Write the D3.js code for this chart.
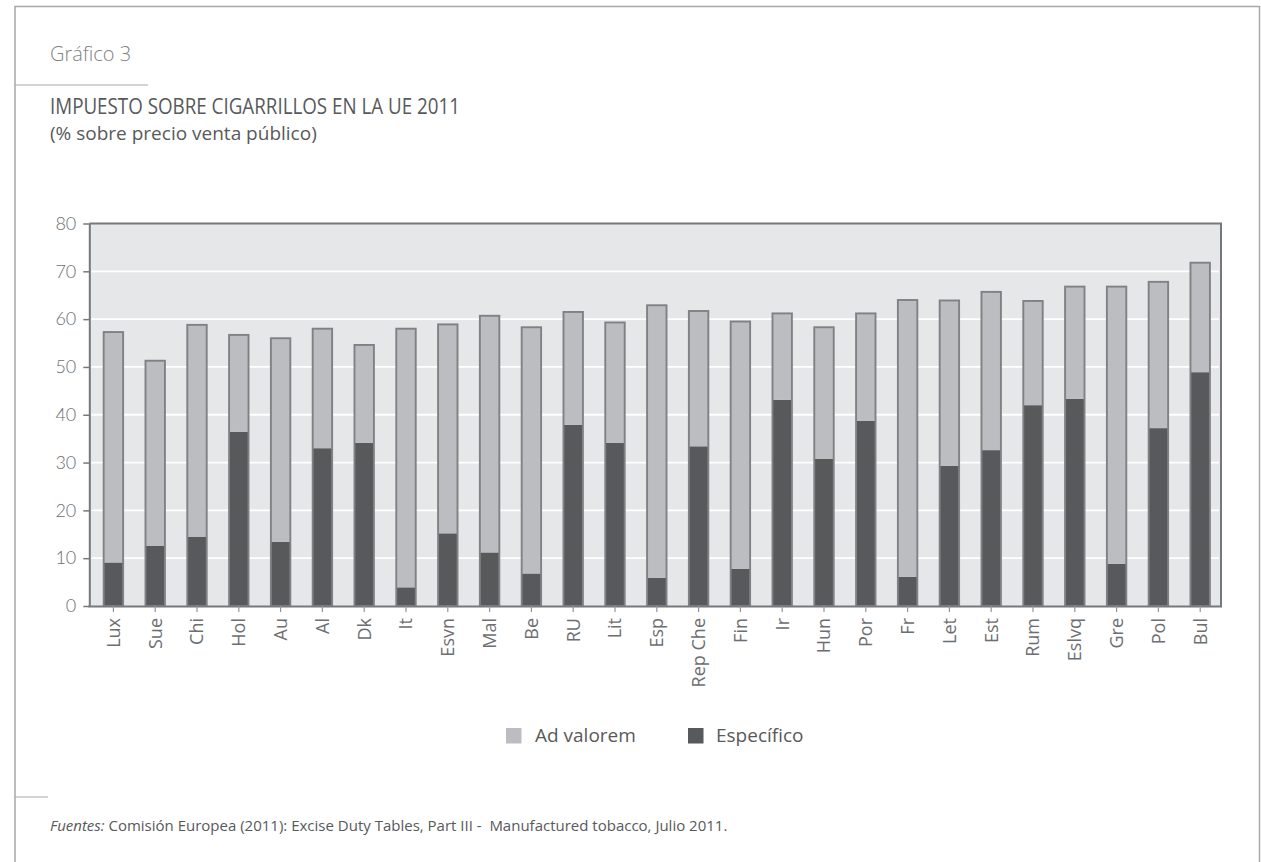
<!DOCTYPE html>
<html>
<head>
<meta charset="utf-8">
<script src="https://cdn.jsdelivr.net/npm/d3@7"></script>
<style>
  html, body { margin: 0; padding: 0; background: #ffffff; }
  svg { display: block; font-family: "Open Sans", "Noto Sans", sans-serif; }
</style>
</head>
<body>
<svg id="chart" width="1261" height="862"></svg>
<script>
// Tax on cigarettes in the EU, 2011 (% of retail price)
const paises = ["Lux", "Sue", "Chi", "Hol", "Au", "Al", "Dk", "It", "Esvn", "Mal", "Be", "RU", "Lit",
  "Esp", "Rep Che", "Fin", "Ir", "Hun", "Por", "Fr", "Let", "Est", "Rum", "Eslvq", "Gre", "Pol", "Bul"];
const especifico = [9.1, 12.6, 14.5, 36.4, 13.4, 33.0, 34.1, 3.9, 15.2, 11.2, 6.8, 37.9, 34.1,
  5.9, 33.4, 7.8, 43.1, 30.8, 38.7, 6.1, 29.3, 32.6, 42.0, 43.3, 8.8, 37.2, 48.9];
const adValorem = [48.2, 38.7, 44.3, 20.3, 42.6, 25.0, 20.5, 54.1, 43.7, 49.5, 51.5, 23.6, 25.2,
  57.0, 28.3, 51.7, 18.1, 27.5, 22.5, 57.9, 34.6, 33.1, 21.8, 23.5, 58.0, 30.6, 22.9];
const yTicks = [0, 10, 20, 30, 40, 50, 60, 70, 80];
const series = ["especifico", "adValorem"];
const seriesLabels = {adValorem: "Ad valorem", especifico: "Específico"};

const colors = {especifico: "#58595b", adValorem: "#bcbdc0"};
const outline = "#808185";
const axisColor = "#77787b";
const textColor = "#6d6e71";

const svg = d3.select("#chart");

// page frame and separators
svg.append("path")
  .attr("d", "M15,862 V6.5 H1259.5 V862")
  .attr("fill", "none").attr("stroke", "#a7a8aa").attr("stroke-width", 1.5);
svg.append("line").attr("x1", 15).attr("x2", 148).attr("y1", 85).attr("y2", 85)
  .attr("stroke", "#a7a8aa").attr("stroke-width", 1.2);
svg.append("line").attr("x1", 15).attr("x2", 48).attr("y1", 797).attr("y2", 797)
  .attr("stroke", "#a7a8aa").attr("stroke-width", 1.2);

// headings
svg.append("text").attr("x", 50).attr("y", 61)
  .attr("font-size", 20).attr("font-weight", 300).attr("fill", "#808285")
  .text("Gráfico 3");
svg.append("text").attr("x", 50).attr("y", 114)
  .attr("font-size", 21).attr("font-weight", 500).attr("fill", "#58595b")
  .attr("textLength", 410).attr("lengthAdjust", "spacingAndGlyphs")
  .text("IMPUESTO SOBRE CIGARRILLOS EN LA UE 2011");
svg.append("text").attr("x", 50).attr("y", 140)
  .attr("font-size", 19).attr("fill", "#58595b")
  .text("(% sobre precio venta público)");

// plot geometry
const plot = {left: 89.3, right: 1221, top: 223.5, bottom: 606};

const x = d3.scaleBand().domain(paises).range([92.4, 1221.2]).paddingInner(0.535).paddingOuter(0.27);
const y = d3.scaleLinear().domain([0, 80]).range([plot.bottom, plot.top]);

const table = paises.map((p, i) => ({pais: p, especifico: especifico[i], adValorem: adValorem[i]}));
const stacked = d3.stack().keys(series)(table);

// plot background
svg.append("rect")
  .attr("x", plot.left).attr("y", plot.top)
  .attr("width", plot.right - plot.left).attr("height", plot.bottom - plot.top)
  .attr("fill", "#e6e7e8");

// white gridlines
svg.append("g").selectAll("line")
  .data(yTicks.filter(t => t > 0 && t < 80))
  .join("line")
  .attr("x1", plot.left + 2).attr("x2", plot.right - 2)
  .attr("y1", d => y(d)).attr("y2", d => y(d))
  .attr("stroke", "#ffffff").attr("stroke-width", 1.8);

// stacked segments
svg.append("g").selectAll("g")
  .data(stacked)
  .join("g")
  .attr("fill", d => colors[d.key])
  .selectAll("rect")
  .data(d => d)
  .join("rect")
  .attr("x", d => x(d.data.pais))
  .attr("width", x.bandwidth())
  .attr("y", d => y(d[1]))
  .attr("height", d => y(d[0]) - y(d[1]));

// outline around each full bar
const topLayer = stacked[stacked.length - 1];
svg.append("g").selectAll("rect")
  .data(topLayer)
  .join("rect")
  .attr("x", d => x(d.data.pais))
  .attr("width", x.bandwidth())
  .attr("y", d => y(d[1]))
  .attr("height", d => y(0) - y(d[1]))
  .attr("fill", "none")
  .attr("stroke", outline)
  .attr("stroke-width", 1.9);

// plot border (top and right)
svg.append("path")
  .attr("d", `M${plot.left},${plot.top} H${plot.right} V${plot.bottom}`)
  .attr("fill", "none").attr("stroke", axisColor).attr("stroke-width", 2);

// y axis
const yAxis = svg.append("g")
  .attr("transform", `translate(${plot.left},0)`)
  .call(d3.axisLeft(y).tickValues(yTicks).tickSize(6).tickPadding(7).tickSizeOuter(0));
yAxis.select(".domain").attr("stroke", axisColor).attr("stroke-width", 2);
yAxis.selectAll(".tick line").attr("stroke", axisColor).attr("stroke-width", 1.5);
yAxis.selectAll(".tick text")
  .attr("font-size", 18).attr("font-weight", 300).attr("fill", textColor)
  .attr("font-family", "Lato, 'Open Sans', sans-serif");

// x axis
const xAxis = svg.append("g")
  .attr("transform", `translate(0,${plot.bottom})`)
  .call(d3.axisBottom(x).tickSize(6).tickSizeOuter(0));
xAxis.select(".domain").attr("stroke", axisColor).attr("stroke-width", 2)
  .attr("d", `M${plot.left - 1},0.5H${plot.right + 1}`);
xAxis.selectAll(".tick line").attr("stroke", "#939598").attr("stroke-width", 1.2);
xAxis.selectAll(".tick text")
  .attr("font-size", 18).attr("font-family", "'Open Sans', sans-serif").attr("fill", textColor)
  .attr("text-anchor", "end")
  .attr("transform", "rotate(-90)")
  .attr("x", -12).attr("y", 0).attr("dy", "0.36em");

// legend
const legendItems = [
  {key: "adValorem", sx: 506, tx: 535},
  {key: "especifico", sx: 688, tx: 716}
];
const legend = svg.append("g");
legend.selectAll("rect").data(legendItems).join("rect")
  .attr("x", d => d.sx).attr("y", 728).attr("width", 15.5).attr("height", 15.5)
  .attr("fill", d => colors[d.key]);
legend.selectAll("text").data(legendItems).join("text")
  .attr("x", d => d.tx).attr("y", 742)
  .attr("font-size", 19).attr("fill", "#58595b")
  .text(d => seriesLabels[d.key]);

// source note
const src = svg.append("text").attr("x", 50).attr("y", 831)
  .attr("font-size", 15).attr("fill", "#58595b");
src.append("tspan").attr("font-style", "italic").text("Fuentes:");
src.append("tspan").attr("xml:space", "preserve")
  .text(" Comisión Europea (2011): Excise Duty Tables, Part III -  Manufactured tobacco, Julio 2011.");
</script>
</body>
</html>
